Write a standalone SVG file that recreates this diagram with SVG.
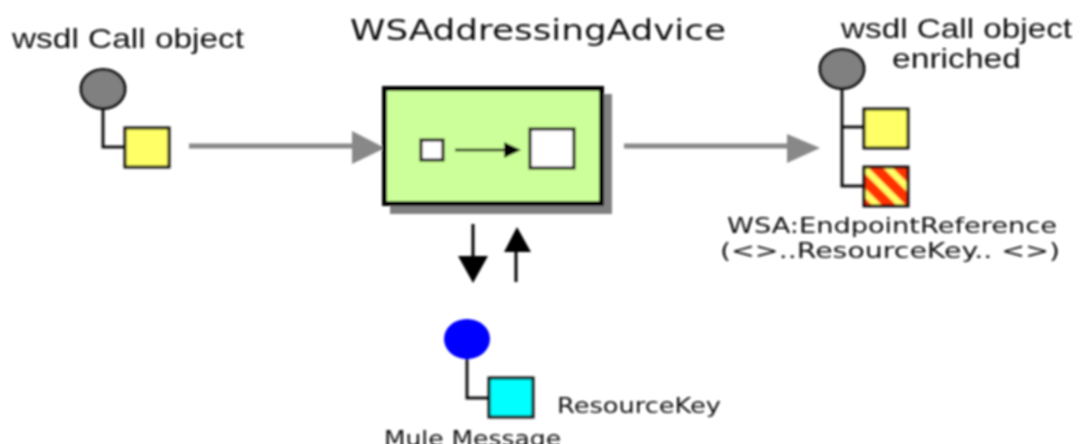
<svg xmlns="http://www.w3.org/2000/svg" width="1082" height="444" viewBox="0 0 1082 444">
<style>
.t{font-family:"Liberation Sans",Arial,sans-serif;font-size:28px;fill:#111}
.d{font-family:"DejaVu Sans",Verdana,sans-serif;font-size:22px;fill:#111}
.h{font-family:"DejaVu Sans",Verdana,sans-serif;font-size:29px;fill:#111}
.k{stroke:#111;stroke-width:3;fill:none}
.b{stroke:#111;stroke-width:3}
.g{stroke:#888;stroke-width:5;fill:none}
</style>
<defs>
<filter id="soft" x="0" y="0" width="100%" height="100%"><feGaussianBlur stdDeviation="0.8"/></filter>
<pattern id="stripes" patternUnits="userSpaceOnUse" width="17" height="17" patternTransform="translate(887 167) rotate(45)">
<rect width="17" height="17" fill="#ff3300"/><rect width="17" height="3.500" fill="#ffff66"/><rect y="13.500" width="17" height="3.500" fill="#ffff66"/>
</pattern>
</defs>
<rect width="1082" height="444" fill="#fff"/>
<g filter="url(#soft)">
<g id="connectors">
<path class="g" d="M189 146H354"/><path d="M352 131L385 148L352 164Z" fill="#888"/>
<path class="g" d="M624 146H790"/><path d="M787 134L820 148L787 163Z" fill="#888"/>
<path d="M473 224V262" stroke="#000" stroke-width="3"/><path d="M458 256H488L473 283Z" fill="#000"/>
<path d="M516 282V250" stroke="#000" stroke-width="3"/><path d="M504 252H531L517 227Z" fill="#000"/>
</g>
<g id="source">
<path class="k" d="M103 105V147H125"/>
<ellipse class="b" cx="103" cy="89" rx="22" ry="19.500" fill="#808080"/>
<rect class="b" x="125" y="128" width="44" height="39" fill="#ffff66"/>
<text class="t" x="12" y="48" textLength="232" lengthAdjust="spacingAndGlyphs">wsdl Call object</text>
</g>
<g id="advice">
<rect x="390" y="94" width="222" height="120" fill="#808080"/>
<rect x="384.500" y="88.500" width="217" height="115" fill="#ccff99" stroke="#000" stroke-width="5"/>
<rect class="b" x="421" y="140" width="22" height="20" fill="#fff"/>
<rect class="b" x="530" y="129" width="44" height="39" fill="#fff"/>
<path d="M455 150H510" stroke="#000" stroke-width="2.500"/><path d="M504 142L521 150L504 158Z" fill="#000"/>
<text class="h" x="350" y="40" textLength="376" lengthAdjust="spacingAndGlyphs">WSAddressingAdvice</text>
</g>
<g id="enriched">
<path class="k" d="M842 85V186H864M842 127H864"/>
<ellipse class="b" cx="842" cy="69" rx="22" ry="19.500" fill="#808080"/>
<rect class="b" x="864" y="109" width="44" height="39" fill="#ffff66"/>
<rect class="b" x="864" y="167" width="44" height="39" fill="url(#stripes)"/>
<text class="t" x="841" y="38" textLength="231" lengthAdjust="spacingAndGlyphs">wsdl Call object</text>
<text class="t" x="892" y="68" textLength="129" lengthAdjust="spacingAndGlyphs">enriched</text>
<text class="d" x="727" y="233" textLength="330" lengthAdjust="spacingAndGlyphs">WSA:EndpointReference</text>
<text class="d" x="720" y="258" textLength="340" lengthAdjust="spacingAndGlyphs">(&lt;&gt;..ResourceKey.. &lt;&gt;)</text>
</g>
<g id="message">
<path class="k" d="M467 355V398H489"/>
<ellipse cx="467" cy="339" rx="23" ry="20" fill="#0000ff"/>
<rect class="b" x="489" y="378" width="44" height="39" fill="#00ffff"/>
<text class="d" x="557" y="413" textLength="164" lengthAdjust="spacingAndGlyphs">ResourceKey</text>
<text class="d" x="384" y="446" textLength="177" lengthAdjust="spacingAndGlyphs">Mule Message</text>
</g>
</g>
</svg>
